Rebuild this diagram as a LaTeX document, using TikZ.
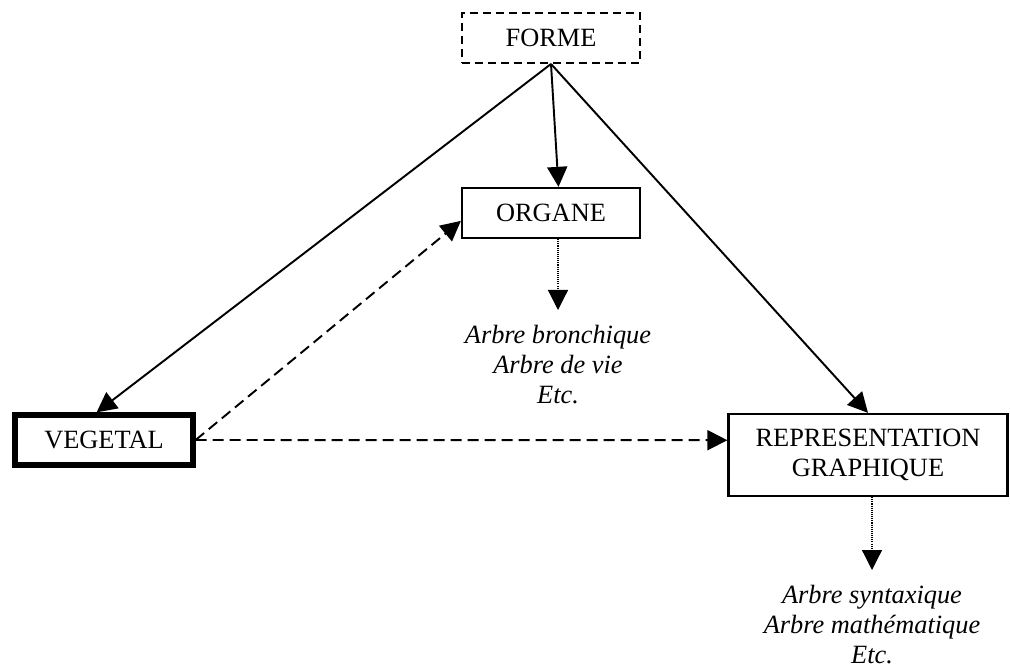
\documentclass[tikz,border=0pt]{standalone}
\usepackage{fontspec}
\setmainfont{Liberation Serif}
\usetikzlibrary{arrows.meta, positioning, calc}

\begin{document}
\begin{tikzpicture}[
    box/.style={rectangle, draw, line width=1.3pt, minimum width=3.56cm, minimum height=1cm, align=center, inner sep=0pt, font=\fontsize{15}{17}\selectfont},
    dashbox/.style={box, line width=1.1pt, dash pattern=on 0.16cm off 0.1cm},
    thickbox/.style={box, line width=3pt},
    listtext/.style={align=center, inner xsep=0pt, inner ysep=0.3cm, font=\fontsize{15}{17}\selectfont\itshape},
    arr/.style={-{Triangle[length=0.4cm, width=0.4cm]}, line width=1.1pt},
    darr/.style={arr, dash pattern=on 0.22cm off 0.12cm},
    oarr/.style={arr, line width=0.7pt, dash pattern=on 0.6pt off 0.6pt},
]
\useasboundingbox (0,0) rectangle (20.2,-13.4);

% ======== BOXES ========
\node[dashbox] (forme) at (11.02,-0.76) {FORME};
\node[box] (organe) at (11.02,-4.26) {ORGANE};
\node[thickbox] (vegetal) at (2.08,-8.80) {VEGETAL};
\node[box, minimum width=5.58cm, minimum height=1.64cm] (repr) at (17.36,-9.10) {REPRESENTATION\\GRAPHIQUE};

% ======== EXAMPLES ========
\node[listtext, anchor=north] (bronch) at (11.16,-6.20) {Arbre bronchique\\Arbre de vie\\Etc.};
\node[listtext, anchor=north] (syntax) at (17.44,-11.40) {Arbre syntaxique\\Arbre mathématique\\Etc.};

% ======== ARROWS ========
\draw[arr] (forme.south) -- (organe.74);
\draw[arr] (forme.south) -- (vegetal.105);
\draw[arr] (forme.south) -- (repr.north);
\draw[darr] (vegetal.east) -- (organe.185);
\draw[darr] (vegetal.east) -- (repr.174);
\draw[oarr] (bronch.north |- organe.south) -- (bronch.north);
\draw[oarr] (syntax.north |- repr.south) -- (syntax.north);

\end{tikzpicture}
\end{document}
